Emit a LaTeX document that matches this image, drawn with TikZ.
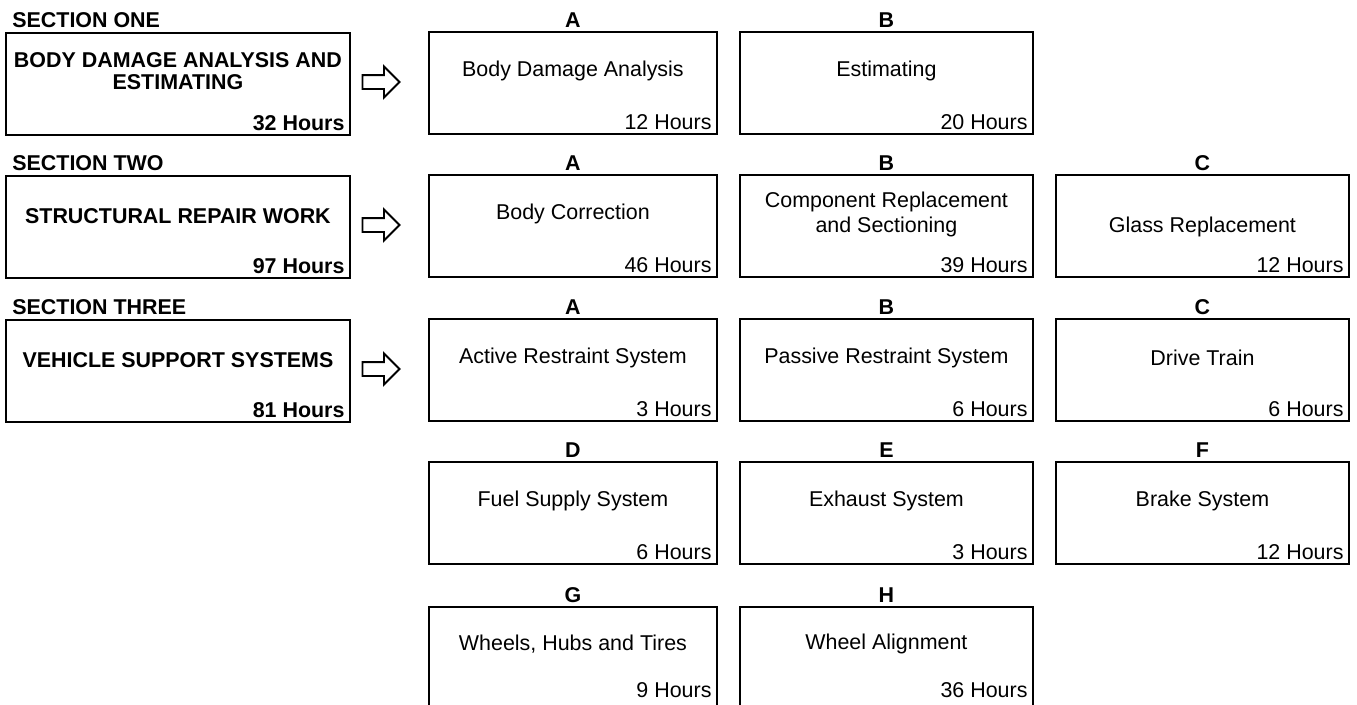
\documentclass[tikz,border=0pt]{standalone}
\usepackage{fontspec}
\setmainfont{Liberation Sans}
\usetikzlibrary{calc,shapes.arrows}
\tikzset{
  plain/.style={font=\fontsize{12.2}{14.2}\selectfont},
  heavy/.style={font=\fontsize{12.2}{12.5}\selectfont\bfseries},
  anybox/.style={draw,line width=1.1pt,anchor=north west,
    minimum height=2.04cm,inner sep=0pt},
  secbox/.style={anybox,minimum width=6.88cm},
  subbox/.style={anybox},
  letter/.style={heavy,anchor=base,inner sep=0pt},
  sechead/.style={heavy,anchor=base west,inner sep=0pt},
  bodytext/.style={plain,align=center,inner sep=0pt},
  sectext/.style={heavy,align=center,inner sep=0pt},
  hours/.style={plain,anchor=base east,inner sep=0pt},
  fatarrow/.style={single arrow,draw,line width=1.1pt,inner sep=.12cm,
    minimum height=.74cm,single arrow head extend=.17cm}
}
\begin{document}
\begin{tikzpicture}[x=0.02cm,y=-0.02cm]
  \clip (0,0) rectangle (1357,704);

  % sections on the left
  \node[secbox] (secone) at (5,32) {};
  \node[sechead] at ($(secone.north west)+(7,-5)$) {SECTION ONE};
  \node[sectext] at ($(secone.north)+(0,39)$)
    {BODY DAMAGE ANALYSIS AND\\ESTIMATING};
  \node[hours,heavy] at ($(secone.south east)+(-6,-5)$) {32 Hours};

  \node[secbox] (sectwo) at (5,175) {};
  \node[sechead] at ($(sectwo.north west)+(7,-5)$) {SECTION TWO};
  \node[sectext] at ($(sectwo.north)+(0,41)$) {STRUCTURAL REPAIR WORK};
  \node[hours,heavy] at ($(sectwo.south east)+(-6,-5)$) {97 Hours};

  \node[secbox] (secthree) at (5,319) {};
  \node[sechead] at ($(secthree.north west)+(7,-5)$) {SECTION THREE};
  \node[sectext] at ($(secthree.north)+(0,41)$) {VEHICLE SUPPORT SYSTEMS};
  \node[hours,heavy] at ($(secthree.south east)+(-6,-5)$) {81 Hours};

  \node[fatarrow] (arrone) at (377.5,82) {};
  \node[fatarrow] (arrtwo) at (377.5,225) {};
  \node[fatarrow] (arrthree) at (377.5,369) {};

  % units of each section
  \foreach \nm/\x/\y/\w/\hy/\lab/\dy/\txt/\hrs in {
    onea/428/31/5.76/5/A/40/{Body Damage Analysis}/12,
    oneb/739/31/5.86/5/B/40/{Estimating}/20,
    twoa/428/174/5.76/5/A/40/{Body Correction}/46,
    twob/739/174/5.86/5/B/40/{Component Replacement\\and Sectioning}/39,
    twoc/1055/174/5.86/5/C/53/{Glass Replacement}/12,
    threea/428/318/5.76/5/A/40/{Active Restraint System}/3,
    threeb/739/318/5.86/5/B/40/{Passive Restraint System}/6,
    threec/1055/318/5.86/5/C/40/{Drive Train}/6,
    threed/428/461/5.76/5/D/40/{Fuel Supply System}/6,
    threee/739/461/5.86/5/E/40/{Exhaust System}/3,
    threef/1055/461/5.86/5/F/40/{Brake System}/12,
    threeg/428/606/5.76/12/G/38/{Wheels, Hubs and Tires}/9,
    threeh/739/606/5.86/12/H/38/{Wheel Alignment}/36}{
    \node[subbox,minimum width=\w cm] (\nm) at (\x,\y) {};
    \node[letter] at ($(\nm.north)+(0,-4)$) {\lab};
    \node[bodytext] at ($(\nm.north)+(0,\dy)$) {\txt};
    \node[hours] at ($(\nm.south east)+(-6,-\hy)$) {\hrs\ Hours};
  }
\end{tikzpicture}
\end{document}
